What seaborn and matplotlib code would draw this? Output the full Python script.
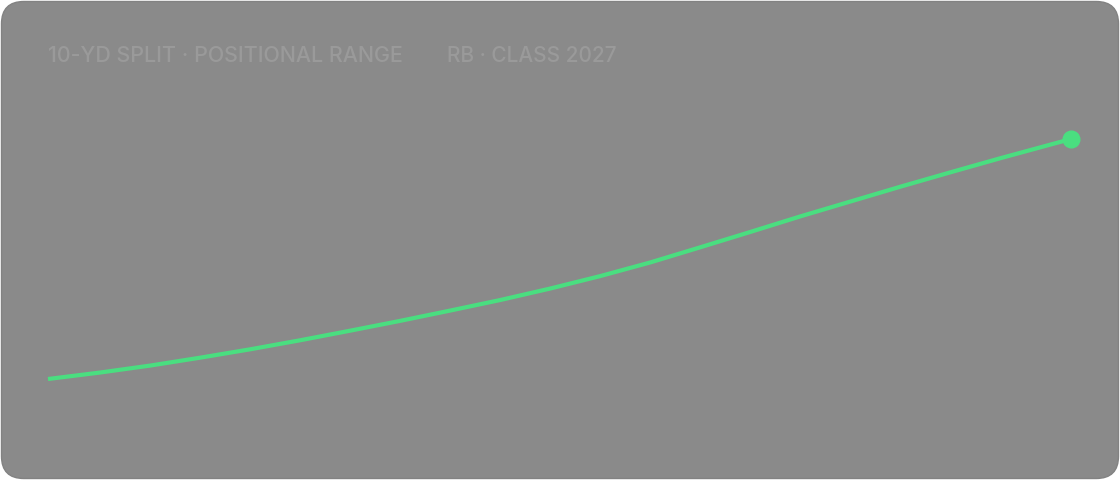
import matplotlib
matplotlib.use('Agg')
import matplotlib.pyplot as plt
from matplotlib.patches import FancyBboxPatch
import seaborn as sns
import pandas as pd

# progress along the range (0-100) and positional score (0-100)
progress = [0, 5.1, 10.0, 14.9, 19.8, 24.6, 29.5, 34.4, 39.3, 44.2, 49.1,
            54.0, 58.9, 63.7, 68.6, 73.5, 78.4, 83.3, 88.2, 93.1, 100]
score = [0, 2.7, 5.6, 8.9, 12.4, 16.1, 20.1, 24.2, 28.5, 32.9, 37.7,
         42.9, 48.6, 54.8, 61.2, 67.7, 73.9, 80.1, 86.1, 92.0, 100]

title_left = '10-YD SPLIT · POSITIONAL RANGE'
title_right = 'RB · CLASS 2027'

bg = '#8a8a8a'
green = '#4ade80'
muted = '#9a9a9a'

sns.set_style('white')
plt.rcParams['font.family'] = ['Inter', 'DejaVu Sans']

fig = plt.figure(figsize=(11.2, 4.8), dpi=100)
fig.patch.set_facecolor('white')

# rounded card behind everything
card = FancyBboxPatch((1.5 / 1120, 1.5 / 480), 1 - 3 / 1120, 1 - 3 / 480,
                      boxstyle='round,pad=0,rounding_size=0.02',
                      transform=fig.transFigure, facecolor=bg,
                      edgecolor='#828282', linewidth=1.0, zorder=-5,
                      mutation_aspect=1120 / 480)
fig.patches.append(card)

ax = fig.add_axes([48 / 1120, 101 / 480, 1023 / 1120, 240 / 480])
ax.set_facecolor('none')
ax.set_zorder(2)

df = pd.DataFrame({'progress': progress, 'score': score})
sns.lineplot(data=df, x='progress', y='score', ax=ax, color=green,
             linewidth=3.0, solid_capstyle='butt', solid_joinstyle='round',
             clip_on=False)
ax.plot(df['progress'].iloc[-1], df['score'].iloc[-1], 'o', color=green,
        markersize=12, clip_on=False)

ax.set_xlim(0, 100)
ax.set_ylim(0, 100)
ax.axis('off')

fig.text(48 / 1120, 1 - 56.5 / 480, title_left, color=muted, fontsize=15.4,
         fontweight='medium', va='center', ha='left')
fig.text(447 / 1120, 1 - 56.5 / 480, title_right, color=muted, fontsize=15.0,
         fontweight='medium', va='center', ha='left')

fig.savefig('out.png', dpi=100, facecolor=fig.get_facecolor())
